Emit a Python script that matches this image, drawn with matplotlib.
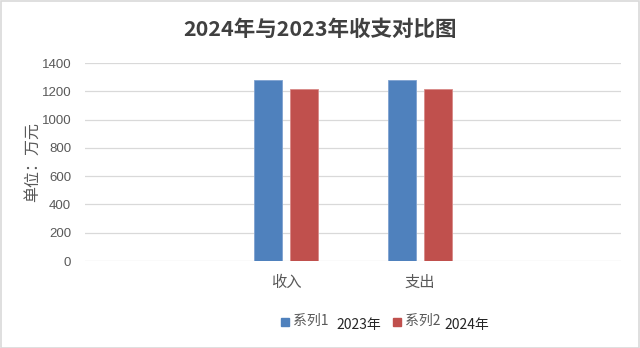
import matplotlib
matplotlib.use("Agg")
import matplotlib.pyplot as plt
from matplotlib.patches import Rectangle
import numpy as np

plt.rcParams['font.family'] = ['Noto Sans CJK SC', 'DejaVu Sans']

title = "2024年与2023年收支对比图"
categories = ["", "收入", "支出", ""]
series1_name = "系列1"
series2_name = "系列2"
series1_year = "2023年"
series2_year = "2024年"
values_2023 = [np.nan, 1280, 1280, np.nan]
values_2024 = [np.nan, 1215, 1215, np.nan]
yticks = [0, 200, 400, 600, 800, 1000, 1200, 1400]
ylabel = "单位：万元"

blue = "#4F81BD"
red = "#C0504D"
tick_color = "#595959"

fig = plt.figure(figsize=(6.4, 3.48), dpi=100)
ax = fig.add_axes([85/640, 1-261/348, 536/640, (261-63)/348])

x = np.arange(len(categories))
w = 0.21
off = 0.136
ax.bar(x - off, values_2023, width=w, color=blue, edgecolor="#7FA2D0", linewidth=0.6, zorder=3)
ax.bar(x + off, values_2024, width=w, color=red, edgecolor="#D88A88", linewidth=0.6, zorder=3)

ax.set_xlim(-0.5, len(categories) - 0.5)
ax.set_ylim(0, 1400)
ax.set_yticks(yticks)
ax.set_yticklabels([str(v) for v in yticks], fontsize=9.5, color=tick_color,
                   family=['Liberation Sans', 'DejaVu Sans'])
ax.set_xticks(x)
ax.set_xticklabels(categories, fontsize=11, color=tick_color)
ax.tick_params(axis='x', length=0, pad=9)
ax.tick_params(axis='y', length=0, pad=10)
ax.grid(axis='y', color="#D9D9D9", linewidth=0.9, zorder=0)
for s in ax.spines.values():
    s.set_visible(False)
ax.set_ylabel(ylabel, fontsize=11.5, color=tick_color)
ax.yaxis.set_label_coords((41-85)/536, 0.5)

fig.text(0.5, 1-29/348, title, ha='center', va='center', fontsize=15.5,
         fontweight='bold', color="#404040")

# legend
ly = 1 - 322/348
sq = 8
fig.patches.append(Rectangle((281/640, ly - sq/2/348), sq/640, sq/348,
                             transform=fig.transFigure, color=blue))
fig.text(293/640, ly + 1/348, series1_name, ha='left', va='center', fontsize=10, color=tick_color)
fig.text(336/640, ly - 3/348, series1_year, ha='left', va='center', fontsize=10, color="#262626")
fig.patches.append(Rectangle((393/640, ly - sq/2/348), sq/640, sq/348,
                             transform=fig.transFigure, color=red))
fig.text(405/640, ly + 1/348, series2_name, ha='left', va='center', fontsize=10, color=tick_color)
fig.text(444/640, ly - 3/348, series2_year, ha='left', va='center', fontsize=10, color="#262626")

fig.patches.append(Rectangle((0.5/640, 0.5/348), 638.5/640, 346.5/348, transform=fig.transFigure,
                             fill=False, edgecolor="#D9D9D9", linewidth=1.2))

fig.savefig("out.png", dpi=100)
